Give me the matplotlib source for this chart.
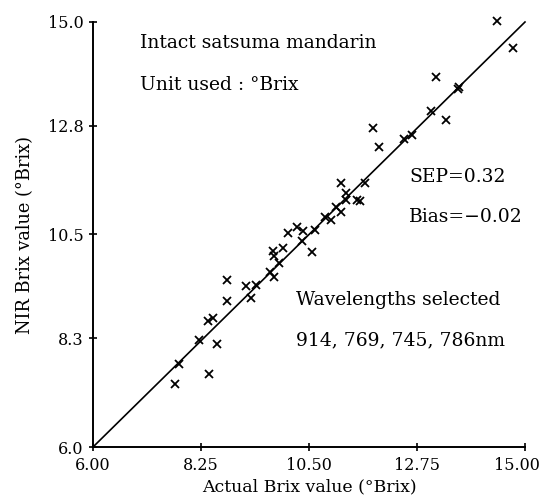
import matplotlib
matplotlib.use("Agg")
import matplotlib.pyplot as plt
import matplotlib.transforms as mtransforms
import numpy as np

# actual vs NIR brix
actual = [7.71, 7.79, 8.20, 8.41, 8.59, 8.39, 8.49, 8.79, 8.79, 9.19, 9.29,
          9.39, 9.69, 9.78, 9.75, 9.77, 9.87, 9.95, 10.07, 10.26, 10.37, 10.35,
          10.56, 10.63, 10.84, 10.95, 11.06, 11.17, 11.16, 11.27, 11.27, 11.50,
          11.56, 11.66, 11.84, 11.96, 12.47, 12.65, 13.04, 13.35, 13.15, 13.63,
          13.60, 14.42, 14.74]
nir = [7.33, 7.75, 8.26, 7.54, 8.19, 8.67, 8.73, 9.10, 9.53, 9.40, 9.16,
       9.44, 9.71, 9.61, 10.14, 10.05, 9.90, 10.21, 10.53, 10.65, 10.57, 10.36,
       10.12, 10.59, 10.88, 10.81, 11.08, 10.98, 11.58, 11.37, 11.24, 11.22,
       11.20, 11.60, 12.75, 12.36, 12.53, 12.61, 13.12, 12.92, 13.83, 13.62,
       13.59, 15.03, 14.45]

xticks = [6.00, 8.25, 10.50, 12.75, 15.00]
xlabels = ["6.00", "8.25", "10.50", "12.75", "15.00"]
yticks = [6.0, 8.3, 10.5, 12.8, 15.0]
ylabels = ["6.0", "8.3", "10.5", "12.8", "15.0"]

plt.rcParams['font.family'] = ['DejaVu Serif']

fig = plt.figure(figsize=(5.45, 5.03), dpi=100)
ax = fig.add_axes([93/545, 56/503, 432/545, 425/503])

ax.plot([6, 15], [6, 15], color="black", lw=1.2, clip_on=False)
ax.plot(actual, nir, "x", color="black", ms=5.5, mew=1.3, clip_on=False)

ax.set_xlim(6, 15)
ax.set_ylim(6, 15)
ax.set_xticks(xticks)
ax.set_xticklabels(xlabels)
ax.set_yticks(yticks)
ax.set_yticklabels(ylabels)
ax.tick_params(direction="inout", length=6, width=1.2, labelsize=11.5, pad=4)
ax.spines["top"].set_visible(False)
ax.spines["right"].set_visible(False)
ax.spines["left"].set_linewidth(1.4)
ax.spines["bottom"].set_linewidth(1.4)

# pull the last x label in a little so it stays inside the figure
last = ax.get_xticklabels()[-1]
last.set_transform(last.get_transform() +
                   mtransforms.ScaledTranslation(-8/100, 0, fig.dpi_scale_trans))

ax.set_xlabel("Actual Brix value (°Brix)", fontsize=12.5, labelpad=3)
ax.set_ylabel("NIR Brix value (°Brix)", fontsize=12.8, labelpad=10)

kw = dict(transform=fig.transFigure, fontsize=13.5, va="center", ha="left")
fig.text(140/545, 1 - 43/503, "Intact satsuma mandarin", **kw)
fig.text(140/545, 1 - 85/503, "Unit used : °Brix", **kw)
fig.text(409/545, 1 - 177/503, "SEP=0.32", **kw)
fig.text(409/545, 1 - 217/503, "Bias=−0.02", **kw)
fig.text(296/545, 1 - 300/503, "Wavelengths selected", **kw)
fig.text(296/545, 1 - 340/503, "914, 769, 745, 786nm", **kw)

fig.savefig("out.png", dpi=100)
